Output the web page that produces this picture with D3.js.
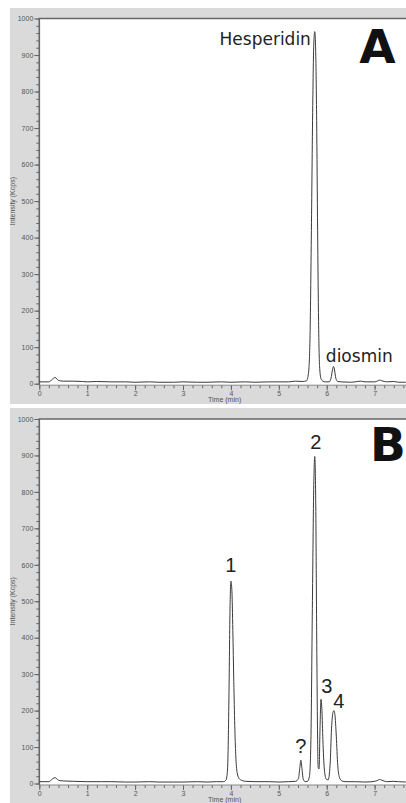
<!DOCTYPE html>
<html lang="en">
  <head>
    <meta charset="UTF-8" />
    <title>Chromatograms A and B</title>
    <style>
      body { margin: 0; background: #fff; }
      svg { display: block; }
      .tick text { font-family: 'Liberation Sans', Arial, sans-serif; font-size: 7px; fill: #555; }
      .tick line { stroke: #666; }
      .domain { display: none; }
      .caption { font-family: 'Liberation Sans', Arial, sans-serif; font-size: 7px; fill: #555; }
    </style>
  </head>
  <body>
    <svg width="406" height="803"></svg>
    <script src="https://cdn.jsdelivr.net/npm/d3@7"></script>
    <script>
      // trace A: hesperidin / diosmin standards
      const timeA = [0, 0.1, 0.2, 0.27, 0.33, 0.4, 0.5, 0.7, 0.9, 1.0, 1.2, 1.5, 1.8, 2.0, 2.3, 2.5,
        2.8, 3.0, 3.3, 3.5, 3.8, 4.0, 4.3, 4.5, 4.8, 5.0, 5.2, 5.35, 5.5, 5.58, 5.62, 5.65, 5.68,
        5.71, 5.73, 5.75, 5.77, 5.79, 5.81, 5.83, 5.85, 5.88, 5.92, 5.98, 6.05, 6.09, 6.12, 6.14,
        6.16, 6.19, 6.23, 6.3, 6.5, 6.65, 6.7, 6.8, 7.0, 7.07, 7.1, 7.15, 7.25, 7.4, 7.5, 7.65];
      const intensityA = [5, 5, 5, 12, 17, 9, 7, 7, 6, 5, 6, 5, 5, 4, 5, 4,
        4, 5, 4, 4, 5, 4, 5, 4, 5, 5, 5, 7, 6, 8, 30, 120, 420,
        780, 930, 964, 910, 720, 420, 170, 50, 14, 7, 5, 5, 15, 38, 47,
        40, 15, 6, 5, 4, 6, 7, 5, 5, 8, 10, 8, 5, 6, 4, 4];

      // trace B: sample, peaks 1-4 and "?"
      const timeB = [0, 0.1, 0.2, 0.27, 0.33, 0.4, 0.5, 0.7, 1.0, 1.3, 1.5, 1.8, 2.0, 2.3, 2.5, 2.8,
        3.0, 3.3, 3.5, 3.7, 3.85, 3.9, 3.93, 3.96, 3.98, 4.0, 4.02, 4.04, 4.06, 4.08, 4.1, 4.13,
        4.17, 4.22, 4.3, 4.5, 4.8, 5.0, 5.2, 5.35, 5.41, 5.44, 5.46, 5.48, 5.51, 5.55, 5.6, 5.64,
        5.67, 5.7, 5.73, 5.75, 5.77, 5.79, 5.81, 5.82, 5.84, 5.86, 5.88, 5.9, 5.92, 5.95, 5.99,
        6.03, 6.07, 6.1, 6.13, 6.15, 6.17, 6.2, 6.23, 6.27, 6.32, 6.4, 6.6, 6.8, 7.0, 7.07, 7.1,
        7.15, 7.25, 7.4, 7.5, 7.65];
      const intensityB = [5, 5, 5, 12, 16, 9, 7, 6, 5, 5, 5, 4, 4, 5, 4, 4,
        4, 5, 4, 5, 5, 10, 40, 250, 470, 555, 530, 420, 280, 160, 80, 30,
        14, 9, 6, 5, 5, 4, 5, 6, 14, 45, 64, 45, 12, 5, 6, 20,
        120, 480, 820, 897, 780, 420, 120, 45, 40, 150, 231, 200, 120, 40, 12,
        10, 50, 150, 195, 200, 190, 130, 50, 15, 7, 5, 5, 4, 6, 9, 11,
        9, 5, 6, 5, 4];

      const xTicks = [0, 1, 2, 3, 4, 5, 6, 7];
      const yTicks = [0, 100, 200, 300, 400, 500, 600, 700, 800, 900, 1000];

      // annotations: [text, time, intensity, anchor]
      const labelsA = [['Hesperidin', 5.67, 928, 'end'], ['diosmin', 6.68, 59, 'middle']];
      const labelsB = [['1', 4.0, 579, 'middle'], ['2', 5.77, 919, 'middle'], ['3', 6.0, 248, 'middle'],
        ['4', 6.25, 207, 'middle'], ['?', 5.46, 84, 'middle']];

      const svg = d3.select('svg');
      const width = +svg.attr('width');

      const panels = [
        { top: 8, bottom: 404, plotTop: 18.5, zero: 383.7, time: timeA, val: intensityA,
          labels: labelsA, letter: 'A', letterAt: [7.06, 879], font: "'DejaVu Sans', Verdana, sans-serif", size: 17 },
        { top: 408, bottom: 806, plotTop: 419, zero: 783.5, time: timeB, val: intensityB,
          labels: labelsB, letter: 'B', letterAt: [7.28, 886], font: "'Liberation Sans', Arial, sans-serif", size: 20 }
      ];

      const x = d3.scaleLinear().domain([0, 7.655]).range([39.3, width]);

      panels.forEach((p) => {
        const y = d3.scaleLinear().domain([0, 1000]).range([p.zero, p.plotTop]);
        const g = svg.append('g');

        g.append('rect')
          .attr('x', 10).attr('y', p.top)
          .attr('width', width - 10).attr('height', p.bottom - p.top)
          .attr('fill', '#dadada');

        g.append('rect')
          .attr('x', x(0)).attr('y', p.plotTop)
          .attr('width', width - x(0)).attr('height', p.zero + 1.5 - p.plotTop)
          .attr('fill', '#fff');

        // minor ticks
        g.append('g')
          .attr('transform', `translate(${x(0)},0)`)
          .call(d3.axisLeft(y).tickValues(d3.range(0, 1001, 20)).tickSize(3).tickFormat(''));
        g.append('g')
          .attr('transform', `translate(${x(0)},0)`)
          .call(d3.axisLeft(y).tickValues(yTicks).tickSize(5).tickPadding(1).tickFormat(d3.format('d')));

        const xa = p.zero + 1.5;
        g.append('g')
          .attr('transform', `translate(0,${xa})`)
          .call(d3.axisBottom(x).tickValues(d3.range(0, 7.61, 0.2)).tickSize(3).tickFormat(''));
        g.append('g')
          .attr('transform', `translate(0,${xa})`)
          .call(d3.axisBottom(x).tickValues(xTicks).tickSize(5).tickPadding(1).tickFormat(d3.format('d')));

        // frame lines
        g.append('path')
          .attr('d', `M${x(0)},${xa}V${p.plotTop}H${width}`)
          .attr('fill', 'none')
          .attr('stroke', '#666')
          .attr('stroke-width', 1.6);
        g.append('line')
          .attr('x1', x(0)).attr('x2', width)
          .attr('y1', xa).attr('y2', xa)
          .attr('stroke', '#888').attr('stroke-width', 1);

        g.append('text')
          .attr('class', 'caption')
          .attr('x', (x(0) + width) / 2 + 2)
          .attr('y', xa + 17)
          .attr('text-anchor', 'middle')
          .text('Time (min)');

        g.append('text')
          .attr('class', 'caption')
          .attr('transform', `translate(15,${(p.zero + p.plotTop) / 2}) rotate(-90)`)
          .attr('text-anchor', 'middle')
          .text('Intensity (Kcps)');

        const line = d3.line()
          .x((d, i) => x(p.time[i]))
          .y((d) => y(d))
          .curve(d3.curveMonotoneX);

        g.append('path')
          .datum(p.val)
          .attr('fill', 'none')
          .attr('stroke', '#3a3a3a')
          .attr('stroke-width', 1)
          .attr('d', line);

        g.selectAll('text.peak')
          .data(p.labels)
          .enter()
          .append('text')
          .attr('class', 'peak')
          .attr('x', (d) => x(d[1]))
          .attr('y', (d) => y(d[2]))
          .attr('text-anchor', (d) => d[3])
          .attr('font-family', p.font)
          .attr('font-size', p.size)
          .attr('fill', '#222')
          .text((d) => d[0]);

        g.append('text')
          .attr('x', x(p.letterAt[0]))
          .attr('y', y(p.letterAt[1]))
          .attr('text-anchor', 'middle')
          .attr('font-family', "'DejaVu Sans', sans-serif")
          .attr('font-weight', 'bold')
          .attr('font-size', 47)
          .attr('fill', '#111')
          .text(p.letter);
      });
    </script>
  </body>
</html>
